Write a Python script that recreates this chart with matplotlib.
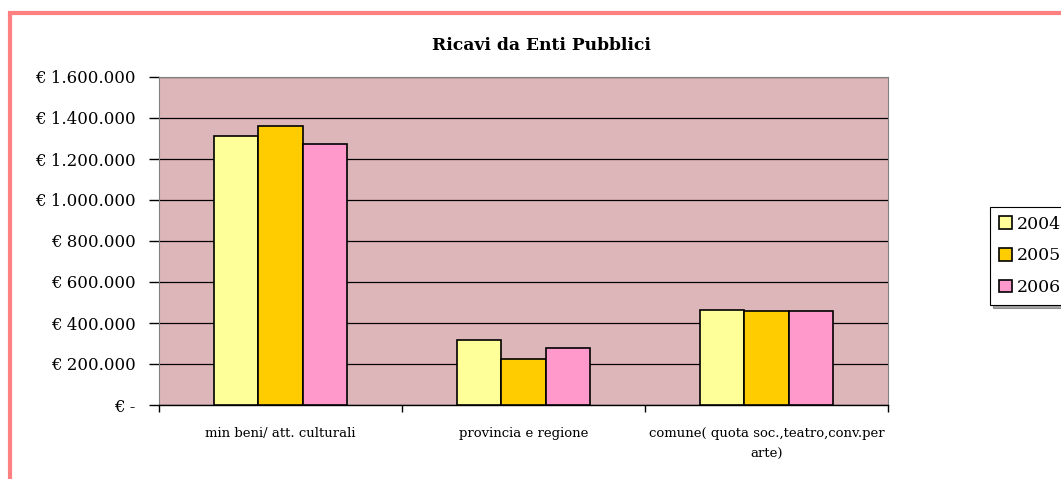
import matplotlib.pyplot as plt
import numpy as np
from matplotlib.patches import Rectangle
from matplotlib.ticker import FuncFormatter

categories = [
    "min beni/ att. culturali",
    "provincia e regione",
    "comune( quota soc.,teatro,conv.per\narte)",
]
years = ["2004", "2005", "2006"]
values_2004 = [1310000, 317000, 465000]
values_2005 = [1363000, 223000, 457000]
values_2006 = [1275000, 277000, 457000]
colors = ["#FFFF99", "#FFCC00", "#FF99CC"]

plt.rcParams["font.family"] = ["DejaVu Serif"]

fig = plt.figure(figsize=(10.61, 4.79), dpi=100)
ax = fig.add_axes([159 / 1061, 1 - 405 / 479, 729 / 1061, 328 / 479])

# pink outer frame (runs off right and bottom edge)
fig.patches.append(
    Rectangle((10 / 1061, -0.1), 1.2, 1 - 13 / 479 + 0.1,
              transform=fig.transFigure, fill=False,
              edgecolor="#FF8080", linewidth=3, zorder=0)
)

ax.set_facecolor("#DDB6BA")
x = np.arange(len(categories))
w = 0.1835
for i, (vals, col) in enumerate(zip([values_2004, values_2005, values_2006], colors)):
    ax.bar(x + (i - 1) * w, vals, width=w, color=col, edgecolor="black",
           linewidth=1.2, label=years[i], zorder=3)

ax.set_xlim(-0.5, 2.5)
ax.set_ylim(0, 1600000)
ax.set_yticks(np.arange(0, 1600001, 200000))
ax.yaxis.set_major_formatter(FuncFormatter(
    lambda v, p: "€ -" if v == 0 else "€ " + f"{int(v):,}".replace(",", ".")))
ax.grid(axis="y", color="black", linewidth=0.9, zorder=1)
ax.set_axisbelow(True)

ax.set_xticks(x)
ax.set_xticklabels(categories, fontsize=9.5, linespacing=1.8)
ax.set_xticks([-0.5, 0.5, 1.5, 2.5], minor=True)
ax.tick_params(axis="x", which="major", length=0, pad=16)
ax.tick_params(axis="x", which="minor", length=5, width=1, color="black")
ax.tick_params(axis="y", length=7, width=1, labelsize=12, pad=10)

for s in ["top", "right"]:
    ax.spines[s].set_color("#808080")
ax.spines["left"].set_color("#808080")
ax.spines["bottom"].set_color("black")
ax.spines["bottom"].set_linewidth(1)

fig.text(541 / 1061, 1 - 45 / 479, "Ricavi da Enti Pubblici",
         ha="center", va="center", fontsize=12.3, fontweight="bold")

leg = ax.legend(loc="upper left", bbox_to_anchor=(990 / 1061, 1 - 207 / 479),
                bbox_transform=fig.transFigure, fontsize=12.5, frameon=True,
                fancybox=False, shadow=True, edgecolor="black",
                handlelength=0.75, handleheight=0.75, handletextpad=0.3,
                labelspacing=0.85, borderpad=0.5, borderaxespad=0)
leg.get_frame().set_linewidth(0.8)

fig.savefig("out.png", dpi=100)
